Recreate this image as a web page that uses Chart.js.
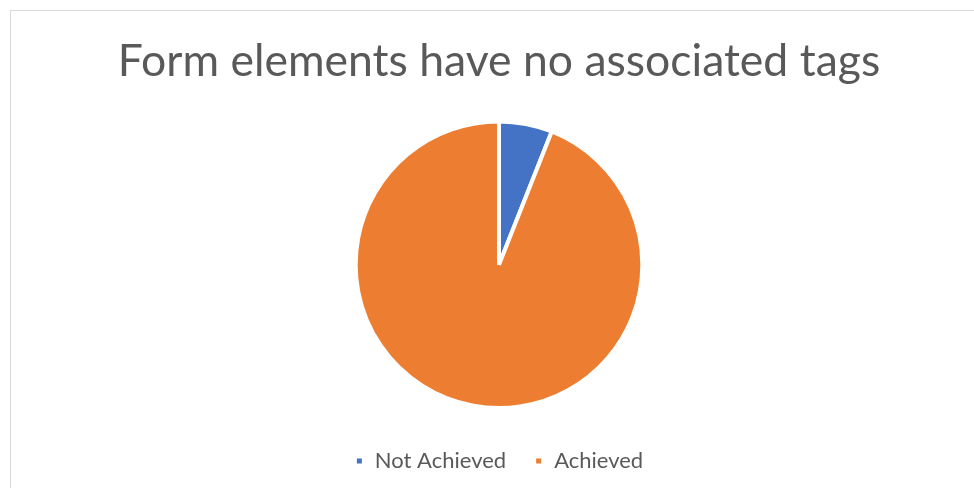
<!DOCTYPE html>
<html>
<head>
<meta charset="utf-8">
<script src="https://cdn.jsdelivr.net/npm/chart.js@4"></script>
<style>
  html, body { margin: 0; padding: 0; background: #fff; overflow: hidden; }
  #box {
    position: absolute; left: 10px; top: 10px;
    width: 976px; height: 478px;
    border-left: 1px solid #d9d9d9; border-top: 1px solid #d9d9d9;
  }
</style>
</head>
<body>
<div id="box"><canvas id="chart"></canvas></div>
<script>
// -------------------------------------------------------------------
// Data
// -------------------------------------------------------------------
const labels = ["Not Achieved", "Achieved"];
const values = [6, 94];
const colors = ["#4472C4", "#ED7D31"];

const FONT = "Lato, 'Open Sans', sans-serif";

new Chart(document.getElementById("chart"), {
  type: "pie",
  data: {
    labels: labels,
    datasets: [{
      data: values,
      backgroundColor: colors,
      borderColor: "#ffffff",
      borderWidth: 4
    }]
  },
  options: {
    responsive: true,
    maintainAspectRatio: false,
    animation: false,
    layout: { padding: { top: 0, bottom: 7 } },
    plugins: {
      title: {
        display: true,
        text: "Form elements have no associated tags",
        color: "#595959",
        font: { family: FONT, size: 44.5, weight: "normal" },
        padding: { top: 24, bottom: 31 }
      },
      legend: {
        position: "bottom",
        // empty legend title = extra gap between pie and legend items
        title: { display: true, text: "", font: { size: 10 }, padding: 0 },
        labels: {
          color: "#595959",
          font: { family: FONT, size: 22 },
          boxWidth: 9,
          boxHeight: 9,
          padding: 28
        }
      },
      tooltip: { enabled: false }
    }
  }
});
</script>
</body>
</html>
